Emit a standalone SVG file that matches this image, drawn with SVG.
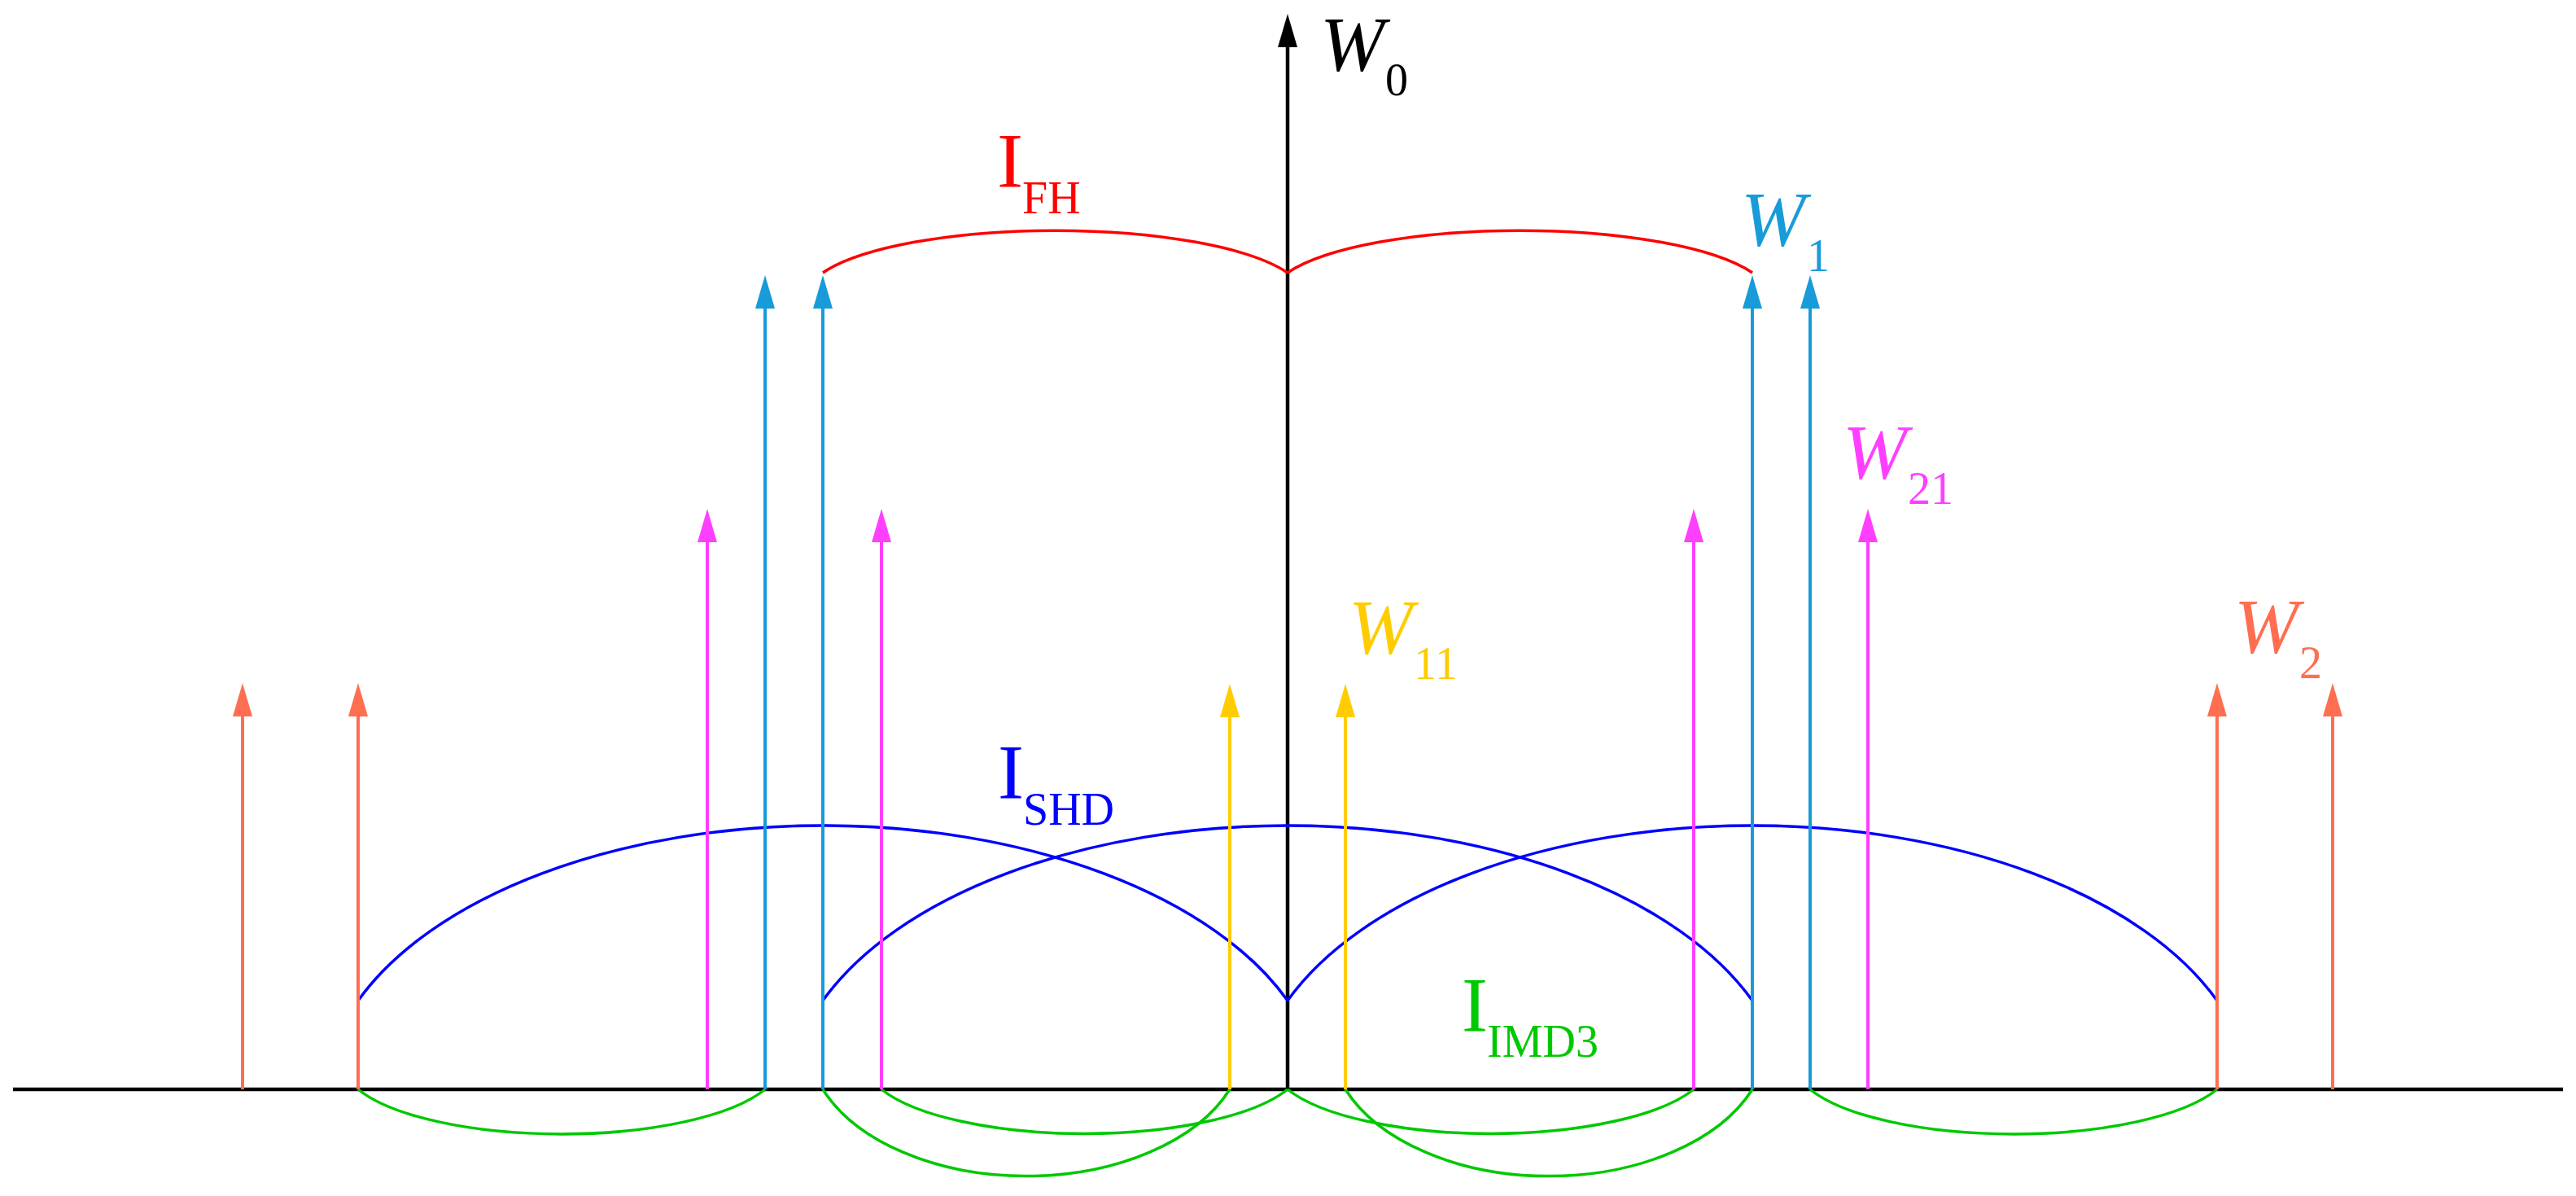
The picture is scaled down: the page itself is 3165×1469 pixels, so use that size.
<svg xmlns="http://www.w3.org/2000/svg" width="3165" height="1469" viewBox="0 0 3165 1469">
<style>
.ax{stroke:#000;stroke-width:4.5;fill:none}
.ar{stroke-width:4;fill:none}
.arc{stroke-width:3.5;fill:none}
.lbl{font-family:"Liberation Serif","Times New Roman",serif}
.W{font-style:italic;font-size:95px}
.I{font-size:96px}
.sub{font-style:normal;font-size:56px}
.blue{stroke:#189BD9}
.mag{stroke:#FF3FFF}
.yel{stroke:#FFCC00}
.ora{stroke:#FF6E50}
</style>
<defs>
<marker id="hK" markerUnits="userSpaceOnUse" markerWidth="41" markerHeight="24" refX="11" refY="12" orient="auto"><path d="M0,0 L41,12 L0,24 z" fill="#000"/></marker>
<marker id="hB" markerUnits="userSpaceOnUse" markerWidth="41" markerHeight="24" refX="11" refY="12" orient="auto"><path d="M0,0 L41,12 L0,24 z" fill="#189BD9"/></marker>
<marker id="hM" markerUnits="userSpaceOnUse" markerWidth="41" markerHeight="24" refX="11" refY="12" orient="auto"><path d="M0,0 L41,12 L0,24 z" fill="#FF3FFF"/></marker>
<marker id="hY" markerUnits="userSpaceOnUse" markerWidth="41" markerHeight="24" refX="11" refY="12" orient="auto"><path d="M0,0 L41,12 L0,24 z" fill="#FFCC00"/></marker>
<marker id="hO" markerUnits="userSpaceOnUse" markerWidth="41" markerHeight="24" refX="11" refY="12" orient="auto"><path d="M0,0 L41,12 L0,24 z" fill="#FF6E50"/></marker>
</defs>
<rect width="3165" height="1469" fill="#fff"/>

<g id="axes">
<line class="ax" x1="16" y1="1338" x2="3149" y2="1338"/>
<line class="ax" x1="1582" y1="1338" x2="1582" y2="47" marker-end="url(#hK)"/>
</g>

<g id="connectors">
<g id="arcs-fh" stroke="#FF0000">
<path class="arc" d="M1011,335 A307,82 0 0 1 1582,335"/>
<path class="arc" d="M1582,335 A307,82 0 0 1 2153,335"/>
</g>
<g id="arcs-shd" stroke="#0000FF">
<path class="arc" d="M440,1229 A614,340 0 0 1 1582,1229"/>
<path class="arc" d="M1011,1229 A614,340 0 0 1 2153,1229"/>
<path class="arc" d="M1582,1229 A614,340 0 0 1 2724,1229"/>
</g>
<g id="arcs-imd3" stroke="#00C800">
<path class="arc" d="M440,1338 A269,87 0 0 0 940,1338"/>
<path class="arc" d="M1011,1338 A269,169 0 0 0 1511,1338"/>
<path class="arc" d="M1083,1338 A269,87 0 0 0 1582,1338"/>
<path class="arc" d="M1582,1338 A269,87 0 0 0 2081,1338"/>
<path class="arc" d="M1653,1338 A269,169 0 0 0 2153,1338"/>
<path class="arc" d="M2224,1338 A269,87 0 0 0 2724,1338"/>
</g>
</g>

<g id="arrows-w2">
<line class="ar ora" x1="298" y1="1338" x2="298" y2="869" marker-end="url(#hO)"/>
<line class="ar ora" x1="440" y1="1338" x2="440" y2="869" marker-end="url(#hO)"/>
<line class="ar ora" x1="2724" y1="1338" x2="2724" y2="869" marker-end="url(#hO)"/>
<line class="ar ora" x1="2866" y1="1338" x2="2866" y2="869" marker-end="url(#hO)"/>
</g>
<g id="arrows-w21">
<line class="ar mag" x1="869" y1="1338" x2="869" y2="655" marker-end="url(#hM)"/>
<line class="ar mag" x1="1083" y1="1338" x2="1083" y2="655" marker-end="url(#hM)"/>
<line class="ar mag" x1="2081" y1="1338" x2="2081" y2="655" marker-end="url(#hM)"/>
<line class="ar mag" x1="2295" y1="1338" x2="2295" y2="655" marker-end="url(#hM)"/>
</g>
<g id="arrows-w1">
<line class="ar blue" x1="940" y1="1338" x2="940" y2="368" marker-end="url(#hB)"/>
<line class="ar blue" x1="1011" y1="1338" x2="1011" y2="368" marker-end="url(#hB)"/>
<line class="ar blue" x1="2153" y1="1338" x2="2153" y2="368" marker-end="url(#hB)"/>
<line class="ar blue" x1="2224" y1="1338" x2="2224" y2="368" marker-end="url(#hB)"/>
</g>
<g id="arrows-w11">
<line class="ar yel" x1="1511" y1="1338" x2="1511" y2="870" marker-end="url(#hY)"/>
<line class="ar yel" x1="1653" y1="1338" x2="1653" y2="870" marker-end="url(#hY)"/>
</g>

<g id="label-w0" class="lbl" fill="#000"><text class="W" x="1622" y="87">W<tspan class="sub" x="1702" y="117">0</tspan></text></g>
<g id="label-w1" class="lbl" fill="#189BD9"><text class="W" x="2139" y="302">W<tspan class="sub" x="2220" y="333">1</tspan></text></g>
<g id="label-w21" class="lbl" fill="#FF3FFF"><text class="W" x="2264" y="588">W<tspan class="sub" x="2344" y="619">21</tspan></text></g>
<g id="label-w11" class="lbl" fill="#FFCC00"><text class="W" x="1657" y="803">W<tspan class="sub" x="1737" y="834">11</tspan></text></g>
<g id="label-w2" class="lbl" fill="#FF6E50"><text class="W" x="2745" y="802">W<tspan class="sub" x="2825" y="833">2</tspan></text></g>
<g id="label-ifh" class="lbl" fill="#FF0000"><text class="I" x="1225" y="230">I<tspan class="sub" x="1256" y="262">FH</tspan></text></g>
<g id="label-ishd" class="lbl" fill="#0000FF"><text class="I" x="1226" y="981">I<tspan class="sub" x="1257" y="1013">SHD</tspan></text></g>
<g id="label-iimd3" class="lbl" fill="#00C800"><text class="I" x="1796" y="1267">I<tspan class="sub" x="1827" y="1298">IMD3</tspan></text></g>
</svg>
